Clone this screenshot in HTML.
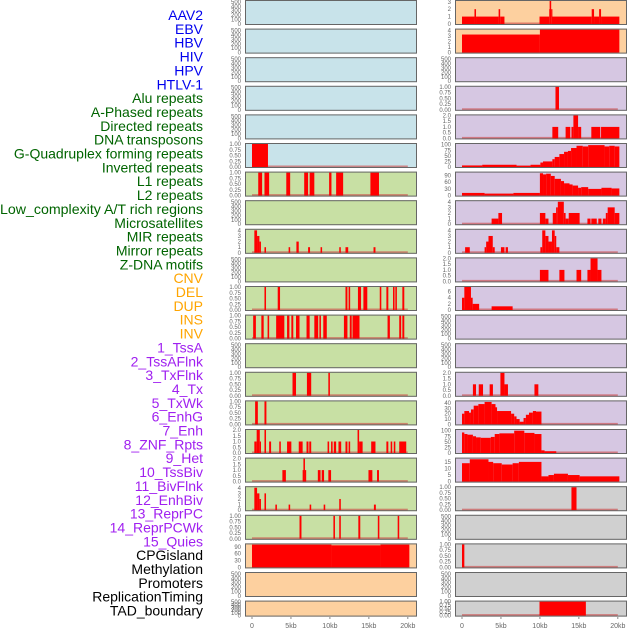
<!DOCTYPE html>
<html><head><meta charset="utf-8"><style>
html,body{margin:0;padding:0;background:#fff;}
svg{display:block;font-family:"Liberation Sans",sans-serif;}
</style></head><body>
<svg id="chart" width="630" height="630" viewBox="0 0 630 630" xmlns="http://www.w3.org/2000/svg"></svg>
<script>
// ---- track labels ----
const labelNames = ["AAV2","EBV","HBV","HIV","HPV","HTLV-1","Alu repeats","A-Phased repeats","Directed repeats","DNA transposons","G-Quadruplex forming repeats","Inverted repeats","L1 repeats","L2 repeats","Low_complexity A/T rich regions","Microsatellites","MIR repeats","Mirror repeats","Z-DNA motifs","CNV","DEL","DUP","INS","INV","1_TssA","2_TssAFlnk","3_TxFlnk","4_Tx","5_TxWk","6_EnhG","7_Enh","8_ZNF_Rpts","9_Het","10_TssBiv","11_BivFlnk","12_EnhBiv","13_ReprPC","14_ReprPCWk","15_Quies","CPGisland","Methylation","Promoters","ReplicationTiming","TAD_boundary"];
const labelGroups = ["v","v","v","v","v","v","r","r","r","r","r","r","r","r","r","r","r","r","r","s","s","s","s","s","c","c","c","c","c","c","c","c","c","c","c","c","c","c","c","o","o","o","o","o"];
// ---- x axis ----
const xTickValues = [0,5,10,15,20];
const xTickLabels = ["0","5kb","10kb","15kb","20kb"];
// ---- left column panels: [start kb, end kb, value] ----
const L0=[],L1=[],L2=[],L3=[],L4=[];
const L5=[[0,2.05,1]];
const L6=[[0.8,1.3,1],[1.6,2.2,1],[4.4,4.9,1],[6.7,7.2,1],[7.4,8.0,1],[9.9,10.2,1],[10.8,11.7,1],[15.2,16.3,1]];
const L7=[];
const L8=[[0.3,0.65,4],[0.65,0.95,3],[0.95,1.15,2],[1.6,1.8,1],[4.7,4.9,1],[5.7,6.0,2],[7.2,7.45,1],[8.8,9.0,1],[11.2,11.4,1],[12.0,12.35,1],[15.6,15.85,1]];
const L9=[];
const L10=[[1.6,1.8,1],[3.3,3.6,1],[12.0,12.25,1],[12.4,12.6,1],[13.6,14.0,1],[14.3,14.8,1],[16.4,16.6,1],[17.25,17.5,1],[18.1,18.3,1],[18.4,18.6,1],[19.3,19.55,1]];
const L11=[[0.15,0.5,1],[1.2,1.5,1],[2.0,2.2,1],[3.1,4.15,1],[4.5,4.8,1],[5.05,5.3,1],[5.65,6.1,1],[7.0,7.4,1],[8.0,8.5,1],[8.65,8.85,1],[9.15,9.6,1],[11.8,12.25,1],[12.55,12.8,1],[12.9,13.8,1],[17.4,17.7,1],[18.9,19.15,1],[19.3,19.55,1]];
const L12=[];
const L13=[[5.2,5.65,1],[7.05,7.6,1],[9.8,10.0,1]];
const L14=[[0.4,0.75,1],[1.6,1.85,1]];
const L15=[[0.3,0.6,1],[0.6,1.0,2],[1.0,1.15,1],[1.6,1.8,2],[2.2,2.45,1],[3.5,3.7,1],[4.5,5.05,1],[6.0,6.5,1],[7.0,7.25,1],[7.35,7.6,1],[9.7,9.9,1],[10.15,10.35,1],[10.5,10.8,1],[11.1,11.45,1],[12.0,12.25,1],[12.4,12.6,1],[13.55,13.75,2],[13.75,14.2,1],[15.3,15.85,1],[17.25,17.5,1],[17.8,18.0,1],[18.2,18.4,1],[18.9,19.8,1]];
const L16=[[3.9,4.35,1],[6.5,6.6,1],[6.6,6.8,2],[6.8,6.95,1],[8.45,8.8,1],[8.95,9.25,1],[9.8,10.15,1],[14.95,15.45,1],[16.05,16.3,1]];
const L17=[[0.3,0.65,4],[0.65,0.95,3],[0.95,1.15,2],[1.6,1.8,3],[3.0,3.2,1],[4.7,4.9,1],[7.4,7.6,1],[9.2,9.4,1],[11.2,11.4,2],[15.65,15.9,1]];
const L18=[[6.1,6.35,1],[10.45,10.65,1],[11.2,11.4,1],[13.65,13.9,1],[16.15,16.35,1],[18.7,18.9,1]];
const L19=[[0,10.2,100],[10.2,16.5,97],[16.5,20.2,100]];
const L20=[],L21=[];
// ---- right column panels ----
const R0=[[0,1.6,1],[1.6,1.8,2],[1.8,4.7,1],[4.7,4.9,2],[4.9,5.45,1],[9.95,11.2,1],[11.2,11.25,2],[11.25,11.45,3.1],[11.45,11.55,2],[11.55,16.65,1],[16.65,16.95,2],[16.95,17.6,1],[17.6,17.85,2],[17.85,20.2,1]];
const R1=[[0,10,3.3],[10,20.2,4.2]];
const R2=[];
const R3=[[12.0,12.45,1]];
const R4=[[11.6,12.35,1],[13.3,13.9,1],[14.05,14.3,1],[14.3,14.9,2],[14.9,15.3,1],[16.6,17.75,1],[17.85,20.2,1]];
const R5=[[0,2.6,7],[2.6,7.0,10],[7.0,8.8,6],[8.8,10.06,10],[10.06,10.4,20],[10.4,11.6,25],[11.6,11.9,35],[11.9,12.5,45],[12.5,13.1,58],[13.1,13.6,68],[13.6,14.0,72],[14.0,14.7,85],[14.7,15.5,95],[15.5,16.2,92],[16.2,18.3,98],[18.3,18.9,92],[18.9,19.6,95],[19.6,20.2,92]];
const R6=[[0,2.9,12],[2.9,6.6,9],[6.6,10.0,12],[10.0,10.4,100],[10.4,10.8,95],[10.8,11.4,98],[11.4,11.9,88],[11.9,12.7,75],[12.7,13.1,65],[13.1,13.8,55],[13.8,14.2,50],[14.2,14.9,45],[14.9,15.3,35],[15.3,16.2,38],[16.2,17.9,30],[17.9,19.2,35],[19.2,20.2,32]];
const R7=[[3.8,4.67,1],[4.67,5.14,2],[10.0,10.7,2],[10.7,11.1,1],[11.65,12.08,2],[12.08,12.3,3],[12.3,13.07,4],[13.07,13.3,2],[13.3,13.7,1],[13.7,15.1,2],[16.1,16.5,1],[16.6,17.3,1],[17.5,17.9,1],[18.08,18.46,1],[18.46,18.7,2],[18.7,19.6,3],[19.6,20.2,2]];
const R8=[[0.4,1.0,1],[2.9,3.1,1],[3.1,3.4,2],[3.4,3.95,3],[3.95,4.2,1],[5.0,5.45,1],[5.6,5.9,1],[10.06,10.3,1],[10.3,10.7,4],[10.7,11.1,3],[11.1,11.55,2],[11.55,11.9,4],[11.9,12.1,3],[12.1,12.5,1]];
const R9=[[10.0,11.1,1],[12.5,13.15,1],[14.7,15.3,1],[16.1,16.5,1],[16.5,17.4,2],[17.4,17.9,1]];
const R10=[[0,0.3,4],[0.3,1.15,7.5],[1.15,1.37,4],[1.37,2.2,2],[3.8,6.5,1.2]];
const R11=[],R12=[];
const R13=[[1.4,1.8,1],[2.15,2.7,1],[3.55,3.97,1],[4.93,5.45,2],[5.45,5.9,1],[9.3,9.8,1]];
const R14=[[0,0.3,20],[0.3,0.9,25],[0.9,1.15,22],[1.15,1.5,28],[1.5,2.1,35],[2.1,2.9,38],[2.9,3.8,42],[3.8,4.3,38],[4.3,4.5,32],[4.5,6.3,25],[6.3,6.7,20],[6.7,7.0,15],[7.0,7.4,10],[7.4,7.9,5],[7.9,8.2,12],[8.2,8.6,18],[8.6,9.1,22],[9.1,9.5,25],[9.5,10.2,24]];
const R15=[[0,0.3,92],[0.3,0.7,85],[0.7,1.4,82],[1.4,1.8,75],[1.8,2.4,70],[2.4,3.7,68],[3.7,4.2,72],[4.2,4.8,85],[4.8,6.7,88],[6.7,8.0,100],[8.0,9.3,90],[9.3,10.2,85],[10.2,10.6,12],[10.6,12.1,8]];
const R16=[[0,1.0,14],[1.0,3.4,17],[3.4,4.0,15],[4.0,5.1,14],[5.1,6.5,13],[6.5,7.3,14],[7.3,10.2,15],[10.2,11.1,4],[11.1,11.8,5],[11.8,13.6,6],[13.6,15.1,5],[15.1,20.2,4]];
const R17=[[14.05,14.7,1]];
const R18=[];
const R19=[[0,0.3,1]];
const R20=[];
const R21=[[9.95,15.9,1]];
// ---- y tick labels per panel ----
const ticksEmpty=["0","100","200","300","400","500"];
const ticksUnit=["0.00","0.25","0.50","0.75","1.00"];
const ticksTwo=["0.0","0.5","1.0","1.5","2.0"];
const ticksFour=["0","1","2","3","4"];
const ticksThree=["0","1","2","3"];
const ticksHundred=["0","25","50","75","100"];
const ticksNinety=["0","30","60","90"];
const ticksEight=["0","2","4","6"];
const ticksForty=["0","10","20","30","40"];
const ticksFifteen=["0","5","10","15"];
const leftData=[L0,L1,L2,L3,L4,L5,L6,L7,L8,L9,L10,L11,L12,L13,L14,L15,L16,L17,L18,L19,L20,L21];
const rightData=[R0,R1,R2,R3,R4,R5,R6,R7,R8,R9,R10,R11,R12,R13,R14,R15,R16,R17,R18,R19,R20,R21];
const leftMax=[520,520,520,520,520,1,1,520,4.1,520,1,1,520,1,1,2,2,4.1,1,101,520,520];
const rightMax=[3.1,4.2,520,1,2,103,103,4.1,4.1,2,7.5,520,520,2,43,103,17.5,1,520,1,520,1];
const leftTicks=[ticksEmpty,ticksEmpty,ticksEmpty,ticksEmpty,ticksEmpty,ticksUnit,ticksUnit,ticksEmpty,ticksFour,ticksEmpty,ticksUnit,ticksUnit,ticksEmpty,ticksUnit,ticksUnit,ticksTwo,ticksTwo,ticksFour,ticksUnit,ticksNinety,ticksEmpty,ticksEmpty];
const rightTicks=[ticksThree,ticksFour,ticksEmpty,ticksUnit,ticksTwo,ticksHundred,ticksNinety,ticksFour,ticksFour,ticksTwo,ticksEight,ticksEmpty,ticksEmpty,ticksTwo,ticksForty,ticksHundred,ticksFifteen,ticksUnit,ticksEmpty,ticksUnit,ticksEmpty,ticksUnit];

const NS="http://www.w3.org/2000/svg";
const svg=document.getElementById('chart');
function mk(tag,attrs,parent){const e=document.createElementNS(NS,tag);for(const k in attrs)e.setAttribute(k,attrs[k]);(parent||svg).appendChild(e);return e;}

const groupColor={v:"#0000ee",r:"#006400",s:"#ffa500",c:"#a020f0",o:"#000000"};
labelNames.forEach((n,i)=>{
  const t=mk('text',{x:203,y:15+i*13.85+5,'text-anchor':'end','font-size':14,fill:groupColor[labelGroups[i]]});
  
  
  if(n.length>28) t.setAttribute('textLength',203), t.setAttribute('lengthAdjust','spacingAndGlyphs');
  t.textContent=n;
});

const PITCH=28.6;
function rowTop(i){return i*PITCH;}
function rowH(i){return i===21?16:25;}
const leftBg=i=>i<6?"#c8e3ea":(i<19?"#c8e0a4":"#fdd09f");
const rightBg=i=>i<2?"#fdd09f":(i<17?"#d6c7e2":"#d0d0d0");

function drawCol(px0,px1,data,maxes,ticks,bgf,side){
  const xs=kb=>px0+7+kb*7.79;
  data.forEach((segs,i)=>{
    const top=rowTop(i),h=rowH(i),bot=top+h;
    const g=mk('g',{});
    
    
    const bg=mk('rect',{x:px0,y:top,width:px1-px0,height:h,fill:bgf(i)},g);
    
    
    const ys=v=>bot-1-v/maxes[i]*(h-2);
    if(segs.length){
      const bl=mk('rect',{x:xs(0),y:bot-2.5,width:xs(20)-xs(0),height:2,fill:"#c44",opacity:0.6},g);
      
      
    }
    segs.forEach(s=>{
      const r=mk('rect',{x:xs(s[0]),y:ys(s[2]),width:Math.max(1.2,xs(s[1])-xs(s[0])),height:bot-1-ys(s[2]),fill:"#ff0000"},g);
      
      
    });
    const fr=mk('rect',{x:px0+0.5,y:top+0.5,width:px1-px0-1,height:h-1,fill:"none",stroke:"#666",'stroke-width':1},g);
    
    
    const tl=ticks[i], n=tl.length;
    tl.forEach((lab,k)=>{
      const frac = maxes[i]>100&&maxes[i]>=500 ? (+lab)/520 : (+lab)/maxes[i];
      const t=mk('text',{x:px0-4,y:bot-1-frac*(h-2)+2,'text-anchor':'end','font-size':6,fill:"#666"},g);
      
      
      t.textContent=lab;
    });
  });
  xTickValues.forEach((v,k)=>{
    const x=xs(v);
    const tk=mk('line',{x1:x,x2:x,y1:617,y2:619,stroke:"#888",'stroke-width':1});
    
    
    const t=mk('text',{x:x,y:628,'text-anchor':'middle','font-size':7,fill:"#666"});
    
    
    t.textContent=xTickLabels[k];
  });
}
drawCol(245,417,leftData,leftMax,leftTicks,leftBg,'left');
drawCol(455,627,rightData,rightMax,rightTicks,rightBg,'right');
</script>
</body></html>
